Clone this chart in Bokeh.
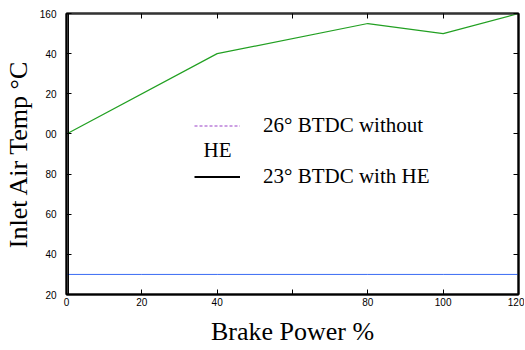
from bokeh.plotting import figure
from bokeh.models import (FixedTicker, LinearAxis, Legend, LegendItem, Label, Range1d, Span)
from bokeh.embed import file_html
from bokeh.resources import INLINE

# data
power = [0, 40, 80, 100, 120]
temp_green = [100, 140, 155, 150, 160]
power_blue = [0, 20, 40, 80, 100, 120]
temp_blue = [30, 30, 30, 30, 30, 30]
legend_labels = ["26° BTDC without", "23° BTDC with HE"]
x_ticks = [0, 20, 40, 60, 80, 100, 120]
x_tick_labels = {60: ""}
y_ticks = [20, 40, 60, 80, 100, 120, 140, 160]
y_tick_labels = {100: "00", 120: "20", 140: "40"}

p = figure(frame_width=452, frame_height=281, output_backend="svg",
           toolbar_location=None, x_range=Range1d(0, 120), y_range=Range1d(20, 160),
           min_border_left=59, min_border_right=6, min_border_top=13, min_border_bottom=47)
p.grid.visible = False
p.outline_line_color = "#222222"
p.outline_line_width = 2
p.background_fill_color = "white"
p.border_fill_color = "white"

p.line(power, temp_green, line_color="#22a022", line_width=1.2)
p.line(power_blue, temp_blue, line_color="#3a6cf4", line_width=1)
nan = float("nan")
r1 = p.line([nan], [nan], line_color="#9a40c8", line_dash="3 2", line_width=1.2)
r2 = p.line([nan], [nan], line_color="black", line_width=2)

p.add_layout(Span(location=0.5, dimension="height", line_color="black", line_width=1.2))

def style_axis(ax):
    ax.major_tick_in = 5
    ax.major_tick_out = 0
    ax.minor_tick_in = 0
    ax.minor_tick_out = 0
    ax.axis_line_color = "black"
    ax.axis_line_width = 2
    ax.major_tick_line_color = "black"
    ax.major_label_text_font = "Liberation Sans"
    ax.major_label_text_font_size = "10px"
    ax.major_label_text_color = "black"

p.xaxis.ticker = FixedTicker(ticks=x_ticks)
p.xaxis.major_label_overrides = x_tick_labels
p.yaxis.ticker = FixedTicker(ticks=y_ticks)
p.yaxis.major_label_overrides = y_tick_labels
style_axis(p.xaxis[0])
style_axis(p.yaxis[0])
p.xaxis.major_label_standoff = 3
p.yaxis.major_label_standoff = 10

p.xaxis.axis_label = "Brake Power %"
p.yaxis.axis_label = "Inlet Air Temp °C"
for ax in (p.xaxis[0], p.yaxis[0]):
    ax.axis_label_text_font = "Liberation Serif"
    ax.axis_label_text_font_size = "26px"
    ax.axis_label_text_font_style = "normal"
    ax.axis_label_text_color = "black"
p.xaxis.axis_label_standoff = 8
p.yaxis.axis_label_standoff = 4

top = LinearAxis(ticker=FixedTicker(ticks=x_ticks),
                 major_label_overrides={t: "" for t in x_ticks})
style_axis(top)
top.axis_line_color = "#333333"
p.add_layout(top, "above")
right = LinearAxis(ticker=FixedTicker(ticks=y_ticks),
                   major_label_overrides={t: "" for t in y_ticks})
style_axis(right)
p.add_layout(right, "right")

legend = Legend(items=[LegendItem(label=legend_labels[0], renderers=[r1]),
                       LegendItem(label=legend_labels[1], renderers=[r2])],
                location=(128, 105), glyph_width=46, glyph_height=21,
                label_height=21, label_standoff=23, spacing=26, padding=0, margin=0,
                border_line_alpha=0, background_fill_alpha=0,
                label_text_font="Liberation Serif", label_text_font_size="21px",
                label_text_color="black")
p.add_layout(legend, "center")

p.add_layout(Label(x=137, y=145, x_units="screen", y_units="screen", text="HE",
                   text_font="Liberation Serif", text_font_size="21px",
                   text_color="black", text_baseline="middle"))

open("out.html", "w").write(file_html(p, INLINE))
